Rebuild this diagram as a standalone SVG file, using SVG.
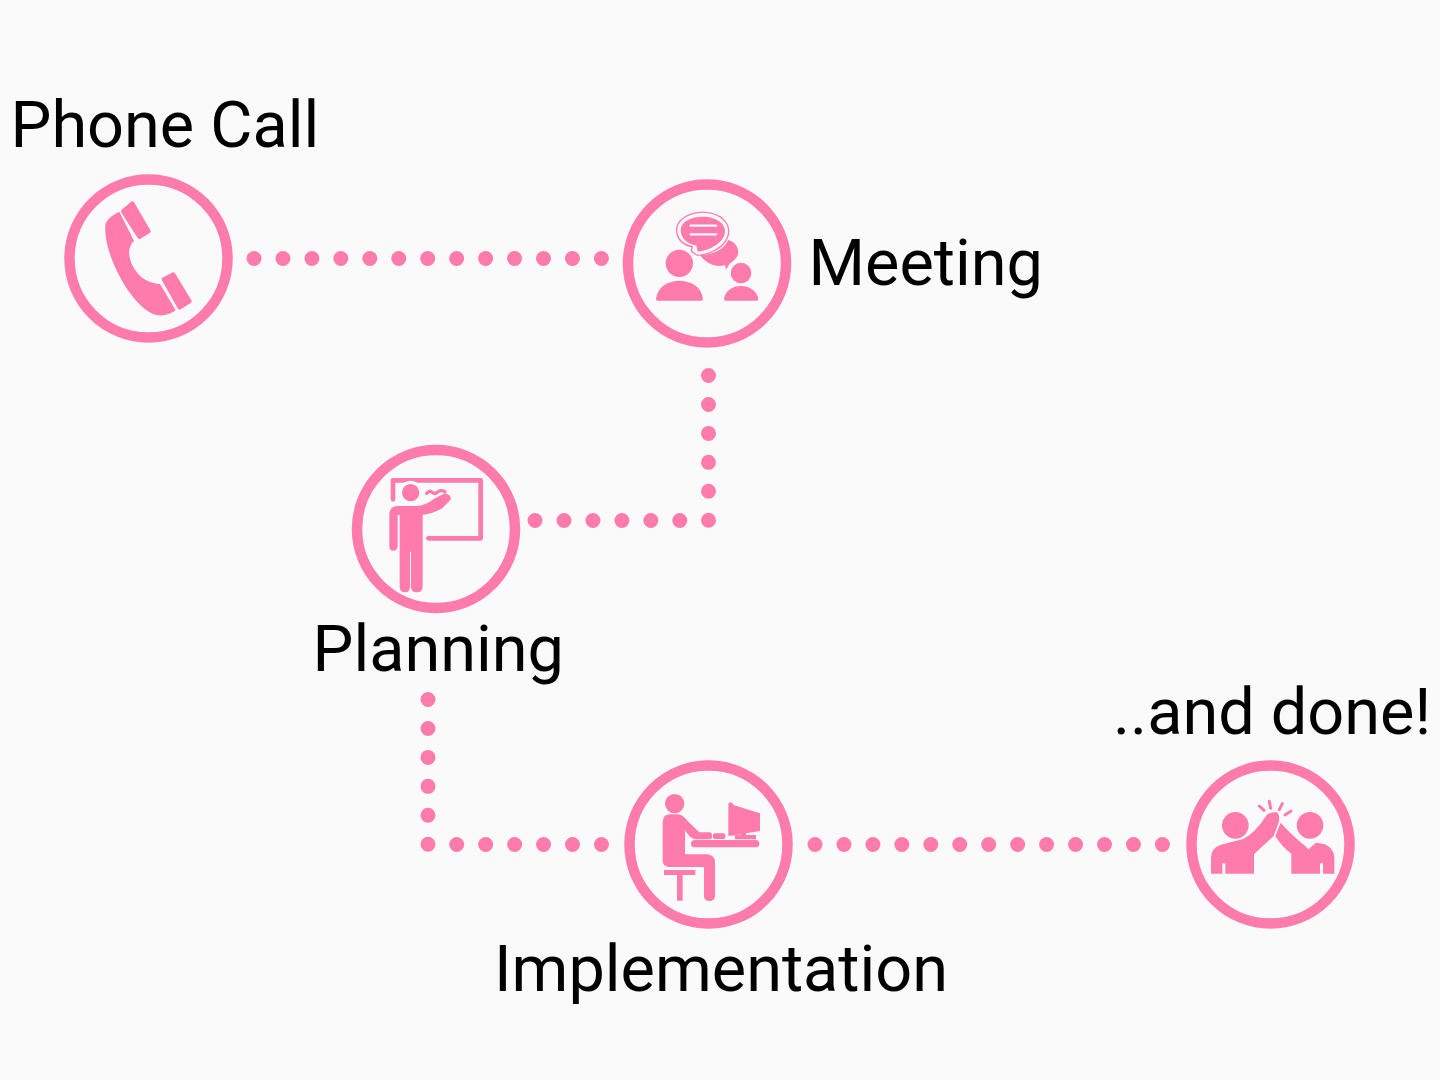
<svg xmlns="http://www.w3.org/2000/svg" width="1440" height="1080" viewBox="0 0 1440 1080">
<style>
.bg{fill:#fafafa}
.ring{fill:none;stroke:#ff7bac;stroke-width:10.500}
.dots{fill:none;stroke:#ff7bac;stroke-width:15;stroke-linecap:round;stroke-dasharray:0 28.95}
.ic{fill:#ff7bac}
.ln{fill:none;stroke:#ff7bac;stroke-linecap:round;stroke-linejoin:round}
.rd{fill:#ff7bac;stroke:#ff7bac;stroke-linecap:round;stroke-linejoin:round}
.wl{fill:none;stroke:#fafafa;stroke-linecap:round;stroke-linejoin:round}
.lb{font-family:Roboto,"Liberation Sans",sans-serif;font-size:64.800px;fill:#000}
</style>
<rect class="bg" width="1440" height="1080"/>
<g id="connectors">
<path class="dots" d="M254 258.500H603"/>
<path class="dots" d="M708.500 375.500V520.500H535"/>
<path class="dots" d="M428 699.500V844.500H602"/>
<path class="dots" d="M815 844.500H1164"/>
</g>
<g id="phone">
<circle class="ring" cx="148.500" cy="258.500" r="79"/>
<g transform="translate(60 170) scale(.33333)">
<path class="ic" d="M178 125Q145 140 137 160C130 200 150 270 185 330C215 385 260 432 295 436Q325 438 347 421L300 342C265 340 240 325 222 295C205 265 200 235 222 212Z"/>
<path class="rd" stroke-width="12" d="M189 124L217 100L266 184L238 201Z"/>
<path class="rd" stroke-width="12" d="M311 328L340 313L389 394L359 413Z"/>
</g>
<text class="lb" x="10.500" y="147">Phone Call</text>
</g>
<g id="meeting">
<circle class="ring" cx="707" cy="263.500" r="79"/>
<g transform="translate(620 175) scale(.33333)">
<circle class="ic" cx="178" cy="265" r="41"/>
<path class="ic" d="M108 372C112 335 145 317 178 317C212 317 245 335 249 372Q249 377 244 377H113Q108 377 108 372Z"/>
<circle class="ic" cx="363" cy="294" r="31"/>
<path class="ic" d="M312 372C315 347 338 333 363 333C388 333 411 347 415 372Q415 377 410 377H317Q312 377 312 372Z"/>
<path class="ic" d="M240 240C290 240 315 215 325 195C345 200 358 220 354 238C350 250 342 258 330 265L318 284L315 270C285 280 255 262 240 240Z"/>
<path class="ic" d="M248 110C295 110 328 135 328 168C328 210 280 240 232 243L212 230L214 217C185 212 168 190 168 165C168 133 205 110 248 110Z"/>
<path fill="#fafafa" d="M248 114C292 114 324 137 324 168C324 207 278 236 233 239L216 228L219 213C190 209 172 189 172 165C172 135 207 114 248 114Z"/>
<path class="ic" d="M248 125C285 125 315 143 315 168C315 198 278 225 233 230L229 212C200 207 182 188 182 165C182 142 210 125 248 125Z"/>
<path class="wl" stroke-width="7" d="M212 152H288M212 178H288"/>
</g>
<text class="lb" x="808.500" y="285">Meeting</text>
</g>
<g id="planning">
<circle class="ring" cx="436" cy="529" r="79"/>
<g transform="translate(345 440) scale(.33333)">
<path class="ln" stroke-width="14" d="M250 295H407V121H144V178"/>
<circle cx="197" cy="158" r="36" fill="#fafafa"/>
<circle class="ic" cx="197" cy="158" r="26"/>
<path class="ln" stroke-width="10" d="M245 160Q255 150 262 157T278 156T300 155"/>
<path class="ic" d="M155 198H215Q240 198 270 175L300 160Q318 165 318 178L292 205Q262 222 233 225V440Q233 457 215 457Q198 457 198 440V335H195V440Q195 457 180 457Q164 457 164 440V225H158V320Q156 332 145 332Q133 332 133 320V220Q135 200 155 198Z"/>
</g>
<text class="lb" x="312.500" y="671">Planning</text>
</g>
<g id="implementation">
<circle class="ring" cx="708.500" cy="844.500" r="79"/>
<g transform="translate(620 755) scale(.33333)">
<circle class="ic" cx="164" cy="146" r="29"/>
<path class="ic" d="M128 200Q130 178 150 178H172Q190 180 200 195L238 232H270Q278 235 276 248Q273 253 268 253H228Q218 252 210 245L195 227V298H262Q285 302 285 320V425Q282 438 268 438Q255 438 252 425V336H145Q128 332 128 318Z"/>
<rect class="ic" x="279" y="235" width="37" height="17" rx="5"/>
<rect class="ic" x="213" y="255" width="205" height="22" rx="11"/>
<path class="ic" d="M132 345H226V360H188V437H171V360H132Z"/>
<path class="ic" d="M325 150Q325 142 332 142Q339 142 340 150L420 175V228L378 235V240H408V253H345V240H362V238L335 242H325Z"/>
</g>
<text class="lb" x="494" y="991">Implementation</text>
</g>
<g id="done">
<circle class="ring" cx="1270.500" cy="844.500" r="79"/>
<g transform="translate(1180 755) scale(.33333)">
<circle class="ic" cx="166" cy="211" r="40"/>
<circle class="ic" cx="390" cy="211" r="40"/>
<path class="ic" d="M93 356V305Q95 280 120 270L190 252Q225 235 260 180Q272 170 290 172Q300 178 297 200L281 243L222 298V356H136V325H127V356Z"/>
<path class="ic" d="M463 356V305Q460 280 435 268L408 263L385 283Q375 270 360 260Q330 235 302 203L286 243Q305 275 334 296V356H420V325H429V356Z"/>
<path class="ln" stroke-width="9" d="M238 153L252 166M268 139L272 160M307 146L298 164M333 168L315 180"/>
</g>
<text class="lb" x="1113" y="734">..and done!</text>
</g>
</svg>
